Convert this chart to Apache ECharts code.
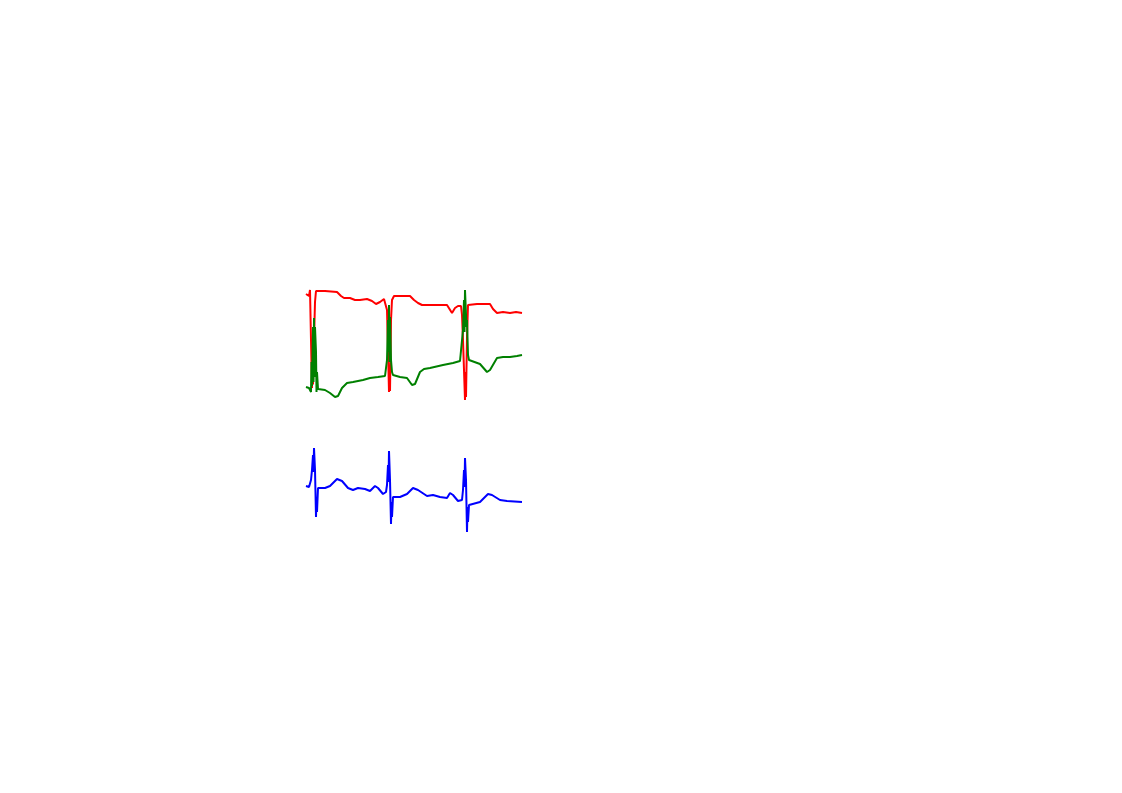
<!DOCTYPE html>
<html>
<head>
<meta charset="utf-8">
<script src="https://cdn.jsdelivr.net/npm/echarts@6/dist/echarts.min.js"></script>
<style>html,body{margin:0;padding:0;background:#fff;}#chart{width:1122px;height:793px;}</style>
</head>
<body>
<div id="chart"></div>
<script>
// time (s) and amplitude (offset mV) samples
const redT = [0.00,0.02,0.03,0.04,0.05,0.06,0.065,0.07,0.08,0.09,0.10,0.19,0.31,0.35,0.38,0.44,0.49,0.54,0.61,0.66,0.70,0.72,0.74,0.78,0.80,0.81,0.82,0.83,0.835,0.84,0.85,0.86,0.88,0.92,1.04,1.08,1.12,1.16,1.24,1.41,1.43,1.46,1.49,1.52,1.55,1.56,1.57,1.58,1.59,1.595,1.60,1.61,1.62,1.64,1.71,1.84,1.87,1.91,1.97,2.04,2.10,2.16];
const redV = [4.76,4.76,4.72,4.84,3.84,2.88,3.60,2.95,3.84,4.60,4.82,4.82,4.80,4.72,4.68,4.68,4.64,4.64,4.66,4.62,4.56,4.54,4.60,4.66,4.64,4.44,3.64,2.80,3.30,2.82,4.24,4.64,4.72,4.72,4.72,4.64,4.58,4.54,4.54,4.54,4.50,4.38,4.48,4.52,4.52,4.34,3.84,3.24,2.64,3.20,2.70,3.90,4.54,4.58,4.56,4.56,4.46,4.38,4.40,4.38,4.40,4.38];

const greenT = [0.00,0.03,0.04,0.05,0.055,0.06,0.07,0.075,0.08,0.085,0.09,0.10,0.105,0.11,0.12,0.19,0.24,0.29,0.32,0.36,0.41,0.47,0.57,0.64,0.72,0.79,0.80,0.81,0.82,0.825,0.83,0.835,0.84,0.85,0.86,0.87,0.94,1.01,1.06,1.09,1.14,1.18,1.24,1.37,1.47,1.54,1.56,1.57,1.58,1.585,1.59,1.60,1.605,1.61,1.62,1.63,1.64,1.74,1.81,1.84,1.91,1.97,2.04,2.11,2.16];
const greenV = [2.90,2.88,2.86,2.80,3.40,2.92,4.10,3.00,4.28,3.10,4.10,3.60,2.80,3.20,2.86,2.84,2.78,2.70,2.72,2.88,2.98,3.00,3.04,3.08,3.10,3.12,3.08,3.44,4.24,3.60,4.54,3.40,4.30,3.44,3.20,3.14,3.10,3.08,2.94,2.96,3.20,3.26,3.28,3.34,3.38,3.42,3.44,4.04,4.64,4.00,4.84,4.84,4.10,4.24,3.54,3.44,3.42,3.36,3.20,3.24,3.48,3.50,3.50,3.52,3.54];

const blueT = [0.00,0.03,0.04,0.05,0.06,0.07,0.075,0.08,0.09,0.10,0.105,0.11,0.12,0.19,0.24,0.31,0.36,0.42,0.47,0.52,0.59,0.64,0.69,0.72,0.77,0.80,0.81,0.82,0.825,0.83,0.84,0.85,0.855,0.86,0.87,0.94,1.01,1.07,1.12,1.14,1.21,1.27,1.34,1.41,1.44,1.47,1.52,1.56,1.57,1.58,1.585,1.59,1.60,1.61,1.615,1.62,1.63,1.64,1.74,1.82,1.86,1.94,2.01,2.16];
const blueV = [0.92,0.90,0.92,1.04,1.24,1.54,1.20,1.68,1.24,0.30,0.70,0.40,0.88,0.88,0.92,1.06,1.02,0.88,0.84,0.88,0.86,0.82,0.92,0.88,0.76,0.80,0.94,1.34,1.00,1.62,1.04,0.16,0.60,0.30,0.70,0.70,0.76,0.88,0.84,0.80,0.72,0.74,0.70,0.68,0.78,0.74,0.62,0.64,0.84,1.24,0.90,1.48,1.04,0.00,0.50,0.20,0.54,0.58,0.60,0.76,0.74,0.64,0.62,0.60];

const zip = (t, v) => t.map((x, i) => [x, v[i]]);
const chart = echarts.init(document.getElementById('chart'), null, {renderer: 'canvas'});
const mk = (name, t, v, color) => ({
  name, type: 'line', data: zip(t, v), showSymbol: false, symbol: 'none',
  lineStyle: {color, width: 2}, itemStyle: {color}, animation: false, clip: false
});
chart.setOption({
  backgroundColor: '#ffffff',
  animation: false,
  grid: {left: 306, right: 600, top: 289, bottom: 261, containLabel: false},
  xAxis: {type: 'value', min: 0, max: 2.16, show: false},
  yAxis: {type: 'value', min: 0, max: 4.86, show: false},
  series: [
    mk('red', redT, redV, '#ff0000'),
    mk('green', greenT, greenV, '#008000'),
    mk('blue', blueT, blueV, '#0000ff')
  ]
});
</script>
</body>
</html>
